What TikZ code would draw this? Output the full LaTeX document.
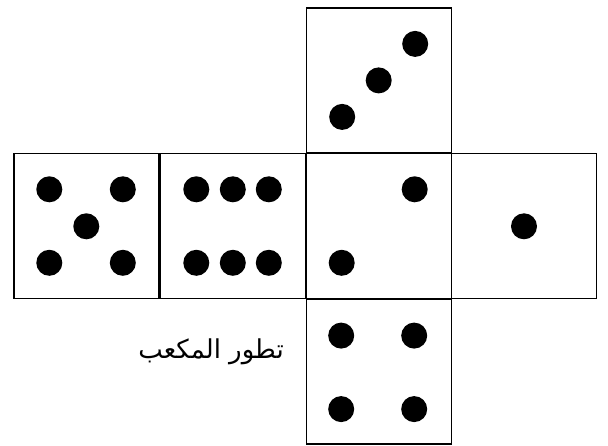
\documentclass[tikz,border=0pt]{standalone}
\usepackage{fontspec}
\newfontfamily\arabicfont[Script=Arabic]{DejaVu Sans}
\TeXXeTstate=1
\begin{document}
\begin{tikzpicture}[x=1pt,y=-1pt,
  face/.style={draw=black,line width=1.4pt,minimum width=145pt,minimum height=145pt,inner sep=0pt,outer sep=0pt},
  pip/.style={circle,fill=black,minimum size=26pt,inner sep=0pt}]
\useasboundingbox (0,0) rectangle (608,446);
\fill[white] (0,0) rectangle (608,446);
% faces
\node[face] (top) at (378.7,80.4) {};
\node[face] (five) at (86.3,226.3) {};
\node[face] (six) at (232.8,226.3) {};
\node[face] (two) at (379.2,226.3) {};
\node[face] (one) at (524,226.3) {};
\node[face] (four) at (378.7,371.6) {};
% top (three)
\node[pip] (t1) at ([shift={(36.5,-36.5)}]top.center) {};
\node[pip] (t2) at (top.center) {};
\node[pip] (t3) at ([shift={(-36.5,36.5)}]top.center) {};
% five
\node[pip] (f1) at ([shift={(-37,-37)}]five.center) {};
\node[pip] (f2) at ([shift={(36.5,-37)}]five.center) {};
\node[pip] (f3) at (five.center) {};
\node[pip] (f4) at ([shift={(-37,36.5)}]five.center) {};
\node[pip] (f5) at ([shift={(36.5,36.5)}]five.center) {};
% six
\node[pip] (s1) at ([shift={(-36.5,-37)}]six.center) {};
\node[pip] (s2) at ([shift={(0,-37)}]six.center) {};
\node[pip] (s3) at ([shift={(36,-37)}]six.center) {};
\node[pip] (s4) at ([shift={(-36.5,36.5)}]six.center) {};
\node[pip] (s5) at ([shift={(0,36.5)}]six.center) {};
\node[pip] (s6) at ([shift={(36,36.5)}]six.center) {};
% two
\node[pip] (w1) at ([shift={(35.5,-37)}]two.center) {};
\node[pip] (w2) at ([shift={(-37.5,36.5)}]two.center) {};
% one
\node[pip] (o1) at (one.center) {};
% four
\node[pip] (r1) at ([shift={(-37.5,-36)}]four.center) {};
\node[pip] (r2) at ([shift={(35.5,-36)}]four.center) {};
\node[pip] (r3) at ([shift={(-37.5,37.5)}]four.center) {};
\node[pip] (r4) at ([shift={(35.5,37.5)}]four.center) {};
% label
\node[anchor=east,inner sep=0pt,font=\arabicfont\fontsize{26}{30}\selectfont] (label) at (284,352) {\beginR تطور المكعب\endR};
\end{tikzpicture}
\end{document}
